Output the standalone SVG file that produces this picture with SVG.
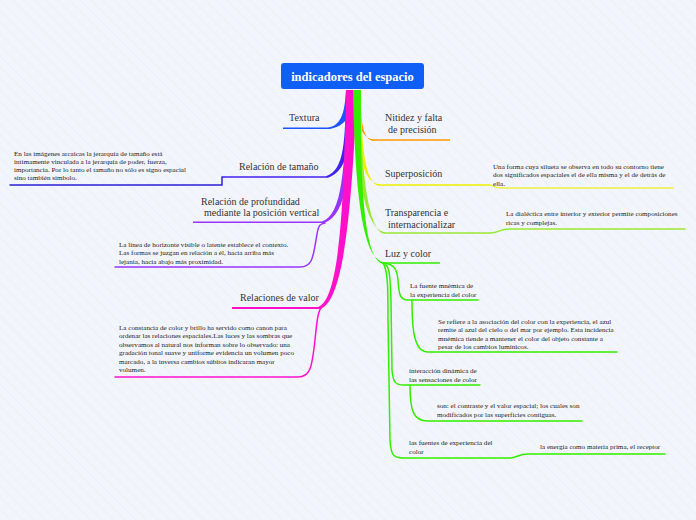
<svg xmlns="http://www.w3.org/2000/svg" width="696" height="520" viewBox="0 0 696 520">
<defs>
<pattern id="hatch" width="8" height="8" patternUnits="userSpaceOnUse" patternTransform="rotate(-45)">
<rect width="8" height="8" fill="#f3f5fc"/>
<line x1="0" y1="0" x2="0" y2="8" stroke="#e9ecf6" stroke-width="1"/>
</pattern>
<style>
.lbl{font-family:"Liberation Serif","DejaVu Serif",serif;font-size:10px;fill:#333}
.sm{font-family:"Liberation Serif","DejaVu Serif",serif;font-size:7.1px;fill:#222}
.ttl{font-family:"Liberation Serif","DejaVu Serif",serif;font-size:12.5px;font-weight:bold;fill:#fff}
.c{fill:none;stroke-width:1.5;stroke-linecap:round}
</style>
</defs>
<rect width="696" height="520" fill="url(#hatch)"/>
<g id="connectors">
<path d="M346,90 C345,110 342,126 328,127.5 L283,127.5 L283,129 L330,129 C350,125 352,110 352,90 Z" fill="#1a55ff"/>
<path d="M346,90 C345,140 345,170 326,176.3 L222,176.3 L222,177.8 L328,177.8 C350,170 351,140 352,90 Z" fill="#4422ee"/>
<path d="M347,90 C345,170 342,215 322,221.5 L193,221.5 L193,223 L324,223 C348,215 350,170 353,90 Z" fill="#9933ff"/>
<path d="M346,90 C344,200 340,300 318,307 L232,307 L232,309 L320,309 C345,302 352,200 357,90 Z" fill="#ff11cc"/>
<path d="M355,90 C357,120 360,139 374,139.3 L450,139.3 L450,140.8 L372,140.8 C362,138 360,115 361,90 Z" fill="#ff9900"/>
<path d="M355,90 C357,150 362,184 380,184.3 L490,184.3 L490,185.8 L378,185.8 C366,182 361,150 361,90 Z" fill="#eef000"/>
<path d="M354,90 C356,170 364,231 386,232.3 L490,232.3 L490,233.8 L384,233.8 C368,230 361,170 360,90 Z" fill="#99e833"/>
<path d="M353,90 C355,190 362,260 384,262.3 L440,262.3 L440,263.8 L382,263.8 C365,258 360,190 361,90 Z" fill="#33ee00"/>
<path class="c" d="M222,177 L222,185 L10,185" stroke="#2b1fd8"/>
<path class="c" d="M325,223 C318,224 318,228 316,240 C313,258 312,267 300,267 L115,267" stroke="#9933ff"/>
<path class="c" d="M321,308 C318,312 317,320 315,340 C312,368 310,377 298,377 L115,377" stroke="#ff11cc"/>
<path class="c" d="M490,185 C495,186 495,188 500,188 L673,188" stroke="#eeee44"/>
<path class="c" d="M490,233 C500,233 498,229 510,229 L685,229" stroke="#99e833"/>
<path class="c" d="M383,263 C395,264 397,270 398,280 C399,295 400,300 408,300 L478,300" stroke="#33ee00"/>
<path class="c" d="M383,263 C390,265 390,275 391,300 L392,370 C393,383 396,385 404,385 L480,385" stroke="#33ee00"/>
<path class="c" d="M383,263 C388,270 388,290 388,320 L390,440 C391,455 393,458 403,458 L510,458 C517,458 518,454 528,454 L665,454" stroke="#33ee00"/>
<path class="c" d="M412,300 C412,330 414,352 428,352 L617,352" stroke="#33ee00"/>
<path class="c" d="M410,385 C410,410 413,421 428,421 L582,421" stroke="#33ee00"/>
</g>
<g id="central">
<rect x="281" y="63" width="143" height="26" rx="3" fill="#0f5ef6"/>
<text class="ttl" x="352.5" y="81" text-anchor="middle">indicadores del espacio</text>
</g>
<g id="textura"><text class="lbl" x="289" y="121">Textura</text></g>
<g id="tamano"><text class="lbl" x="239" y="170">Relación de tamaño</text></g>
<g id="tamano-sub">
<text class="sm" x="14" y="156">En las imágenes arcaicas la jerarquía de tamaño está</text>
<text class="sm" x="14" y="164">íntimamente vinculada a la jerarquía de poder, fuerza,</text>
<text class="sm" x="14" y="172">importancia. Por lo tanto el tamaño no sólo es signo espacial</text>
<text class="sm" x="14" y="180">sino también símbolo.</text>
</g>
<g id="profundidad">
<text class="lbl" x="201" y="205">Relación de profundidad</text>
<text class="lbl" x="204" y="215.5">mediante la posición vertical</text>
</g>
<g id="profundidad-sub">
<text class="sm" x="119" y="246.5">La línea de horizonte visible o latente establece el contexto.</text>
<text class="sm" x="119" y="255">Las formas se juzgan en relación a él, hacia arriba más</text>
<text class="sm" x="119" y="263.5">lejanía, hacia abajo más proximidad.</text>
</g>
<g id="valor"><text class="lbl" x="240" y="301">Relaciones de valor</text></g>
<g id="valor-sub">
<text class="sm" x="119" y="329.5">La constancia de color y brillo ha servido como canon para</text>
<text class="sm" x="119" y="338">ordenar las relaciones espaciales.Las luces y las sombras que</text>
<text class="sm" x="119" y="346.5">observamos al natural nos informan sobre lo observado: una</text>
<text class="sm" x="119" y="355">gradación tonal suave y uniforme evidencia un volumen poco</text>
<text class="sm" x="119" y="363.5">marcado, a la inversa cambios súbitos indicaran mayor</text>
<text class="sm" x="119" y="372">volumen.</text>
</g>
<g id="nitidez">
<text class="lbl" x="385" y="121">Nitidez y falta</text>
<text class="lbl" x="388" y="133">de precisión</text>
</g>
<g id="superposicion"><text class="lbl" x="385" y="177">Superposición</text></g>
<g id="superposicion-sub">
<text class="sm" x="493" y="168.5">Una forma cuya silueta se observa en todo su contorno tiene</text>
<text class="sm" x="493" y="177">dos significados espaciales el de ella misma y el de detrás de</text>
<text class="sm" x="493" y="185.5">ella.</text>
</g>
<g id="transparencia">
<text class="lbl" x="385" y="216">Transparencia e</text>
<text class="lbl" x="388" y="228">internacionalizar</text>
</g>
<g id="transparencia-sub">
<text class="sm" x="506" y="216">La dialéctica entre interior y exterior permite composiciones</text>
<text class="sm" x="506" y="224.5">ricas y complejas.</text>
</g>
<g id="luz"><text class="lbl" x="385" y="257">Luz y color</text></g>
<g id="fuente-mnemica">
<text class="sm" x="410" y="287.5">La fuente mnémica de</text>
<text class="sm" x="410" y="297">la experiencia del color</text>
</g>
<g id="se-refiere">
<text class="sm" x="438" y="323.5">Se refiere a la asociación del color con la experiencia, el azul</text>
<text class="sm" x="438" y="332">remite al azul del cielo o del mar por ejemplo. Esta incidencia</text>
<text class="sm" x="438" y="340.5">mnémica tiende a mantener el color del objeto constante a</text>
<text class="sm" x="438" y="349">pesar de los cambios lumínicos.</text>
</g>
<g id="interaccion">
<text class="sm" x="409" y="372.5">interacción dinámica de</text>
<text class="sm" x="409" y="381.5">las sensaciones de color</text>
</g>
<g id="son">
<text class="sm" x="437" y="407.5">son: el contraste y el valor espacial; los cuales son</text>
<text class="sm" x="437" y="416.5">modificados por las superficies contiguas.</text>
</g>
<g id="fuentes">
<text class="sm" x="409" y="445">las fuentes de experiencia del</text>
<text class="sm" x="409" y="454">color</text>
</g>
<g id="energia"><text class="sm" x="540" y="449">la energía como materia prima, el receptor</text></g>
</svg>
